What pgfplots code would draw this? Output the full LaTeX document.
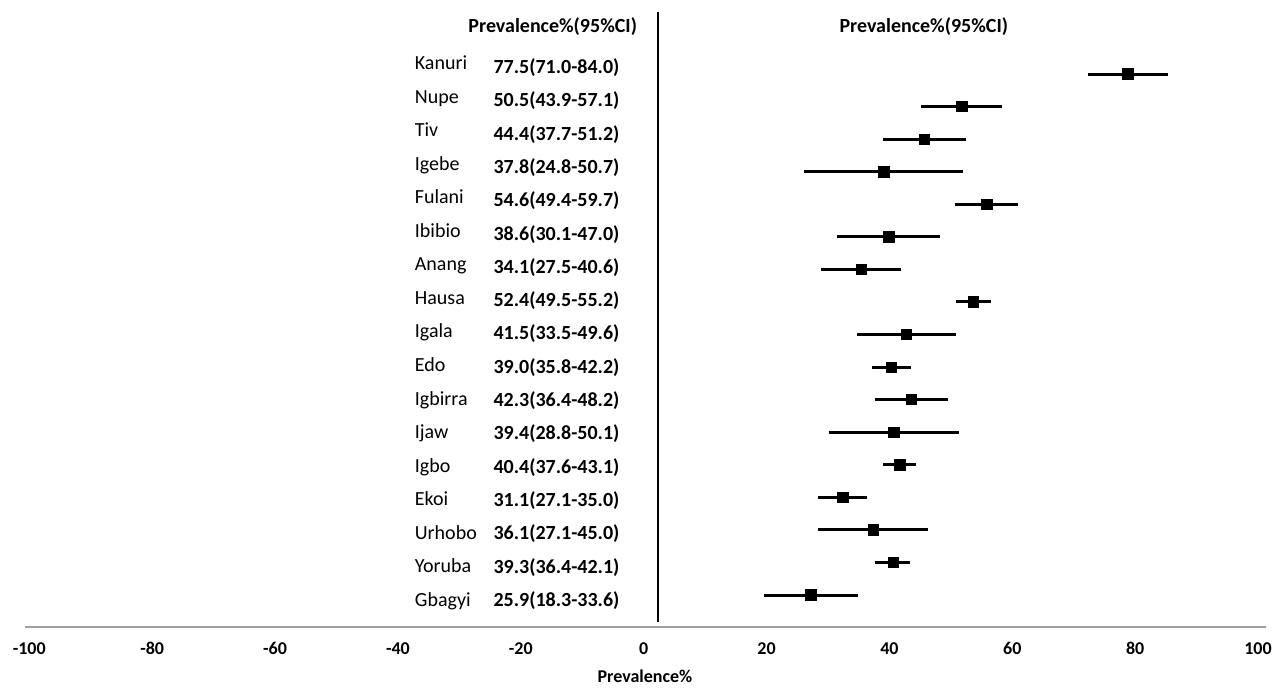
\documentclass[border=0pt]{standalone}
\usepackage{fontspec}
\setmainfont{Carlito}
\usepackage{pgfplots}
\usepackage{pgfplotstable}
\pgfplotsset{compat=1.18}

\pgfplotstableread{
i name m lo hi y
1 Kanuri 77.5 6.5 6.5 -1
2 Nupe 50.5 6.6 6.6 -2
3 Tiv 44.4 6.7 6.8 -3
4 Igebe 37.8 13.0 12.9 -4
5 Fulani 54.6 5.2 5.1 -5
6 Ibibio 38.6 8.5 8.4 -6
7 Anang 34.1 6.6 6.5 -7
8 Hausa 52.4 2.9 2.8 -8
9 Igala 41.5 8.0 8.1 -9
10 Edo 39.0 3.2 3.2 -10
11 Igbirra 42.3 5.9 5.9 -11
12 Ijaw 39.4 10.6 10.7 -12
13 Igbo 40.4 2.8 2.7 -13
14 Ekoi 31.1 4.0 3.9 -14
15 Urhobo 36.1 9.0 8.9 -15
16 Yoruba 39.3 2.9 2.8 -16
17 Gbagyi 25.9 7.6 7.7 -17
}\datatable

\begin{document}
\begin{tikzpicture}[
  nm/.style={anchor=west, font=\fontsize{10}{12}\selectfont, text height=6.4pt, text depth=0pt, inner sep=0pt},
  vl/.style={anchor=center, font=\bfseries\fontsize{10}{12}\selectfont, text height=6.4pt, text depth=0pt, inner sep=0pt}
]
\begin{axis}[
  scale only axis, width=620.5pt, height=311pt,
  xmin=-102, xmax=100, ymin=-17.98, ymax=1.12,
  axis x line=bottom, axis y line=none,
  x axis line style={-, draw=gray!75, line width=1pt},
  xtick={-100,-80,...,100}, major tick length=0pt,
  xticklabel style={font=\bfseries\fontsize{9}{10}\selectfont, text height=5.8pt, text depth=0pt, inner sep=0pt, anchor=north, yshift=-7.6pt, xshift=-4pt},
  /pgf/number format/assume math mode=true,
  ytick=\empty,
  clip=false,
]
\addplot[black, line width=1pt, forget plot] coordinates {(1,0.904) (1,-17.83)};
\addplot[only marks, mark=square*, mark size=2.6pt, black,
  error bars/.cd, x dir=both, x explicit, error mark=none,
  error bar style={line width=1.5pt, black}]
  table[x=m, y=y, x error minus=lo, x error plus=hi] {\datatable};

\node[font=\bfseries\fontsize{10}{12}\selectfont] at (axis cs:-16.1,0.443) {Prevalence\%(95\%CI)};
\node[font=\bfseries\fontsize{10}{12}\selectfont] at (axis cs:44.3,0.443) {Prevalence\%(95\%CI)};
\node[font=\bfseries\fontsize{9}{10}\selectfont] at (axis cs:-1.1,-17.98) [yshift=-24.5pt] {Prevalence\%};

\node[nm] at (axis cs:-38.6,-0.662) {Kanuri};
\node[nm] at (axis cs:-38.6,-1.693) {Nupe};
\node[nm] at (axis cs:-38.6,-2.724) {Tiv};
\node[nm] at (axis cs:-38.6,-3.754) {Igebe};
\node[nm] at (axis cs:-38.6,-4.785) {Fulani};
\node[nm] at (axis cs:-38.6,-5.815) {Ibibio};
\node[nm] at (axis cs:-38.6,-6.846) {Anang};
\node[nm] at (axis cs:-38.6,-7.877) {Hausa};
\node[nm] at (axis cs:-38.6,-8.907) {Igala};
\node[nm] at (axis cs:-38.6,-9.938) {Edo};
\node[nm] at (axis cs:-38.6,-10.969) {Igbirra};
\node[nm] at (axis cs:-38.6,-11.999) {Ijaw};
\node[nm] at (axis cs:-38.6,-13.030) {Igbo};
\node[nm] at (axis cs:-38.6,-14.060) {Ekoi};
\node[nm] at (axis cs:-38.6,-15.091) {Urhobo};
\node[nm] at (axis cs:-38.6,-16.122) {Yoruba};
\node[nm] at (axis cs:-38.6,-17.152) {Gbagyi};

\node[vl] at (axis cs:-15.5,-0.785) {77.5(71.0-84.0)};
\node[vl] at (axis cs:-15.5,-1.808) {50.5(43.9-57.1)};
\node[vl] at (axis cs:-15.5,-2.831) {44.4(37.7-51.2)};
\node[vl] at (axis cs:-15.5,-3.854) {37.8(24.8-50.7)};
\node[vl] at (axis cs:-15.5,-4.877) {54.6(49.4-59.7)};
\node[vl] at (axis cs:-15.5,-5.900) {38.6(30.1-47.0)};
\node[vl] at (axis cs:-15.5,-6.923) {34.1(27.5-40.6)};
\node[vl] at (axis cs:-15.5,-7.946) {52.4(49.5-55.2)};
\node[vl] at (axis cs:-15.5,-8.969) {41.5(33.5-49.6)};
\node[vl] at (axis cs:-15.5,-9.992) {39.0(35.8-42.2)};
\node[vl] at (axis cs:-15.5,-11.015) {42.3(36.4-48.2)};
\node[vl] at (axis cs:-15.5,-12.038) {39.4(28.8-50.1)};
\node[vl] at (axis cs:-15.5,-13.061) {40.4(37.6-43.1)};
\node[vl] at (axis cs:-15.5,-14.084) {31.1(27.1-35.0)};
\node[vl] at (axis cs:-15.5,-15.107) {36.1(27.1-45.0)};
\node[vl] at (axis cs:-15.5,-16.130) {39.3(36.4-42.1)};
\node[vl] at (axis cs:-15.5,-17.153) {25.9(18.3-33.6)};
\end{axis}
\path (current axis.south west) ++(-12.5pt,-28.5pt) coordinate (bbA);
\path (current axis.north east) ++(5.5pt,2.5pt) coordinate (bbB);
\useasboundingbox (bbA) rectangle (bbB);
\end{tikzpicture}
\end{document}
